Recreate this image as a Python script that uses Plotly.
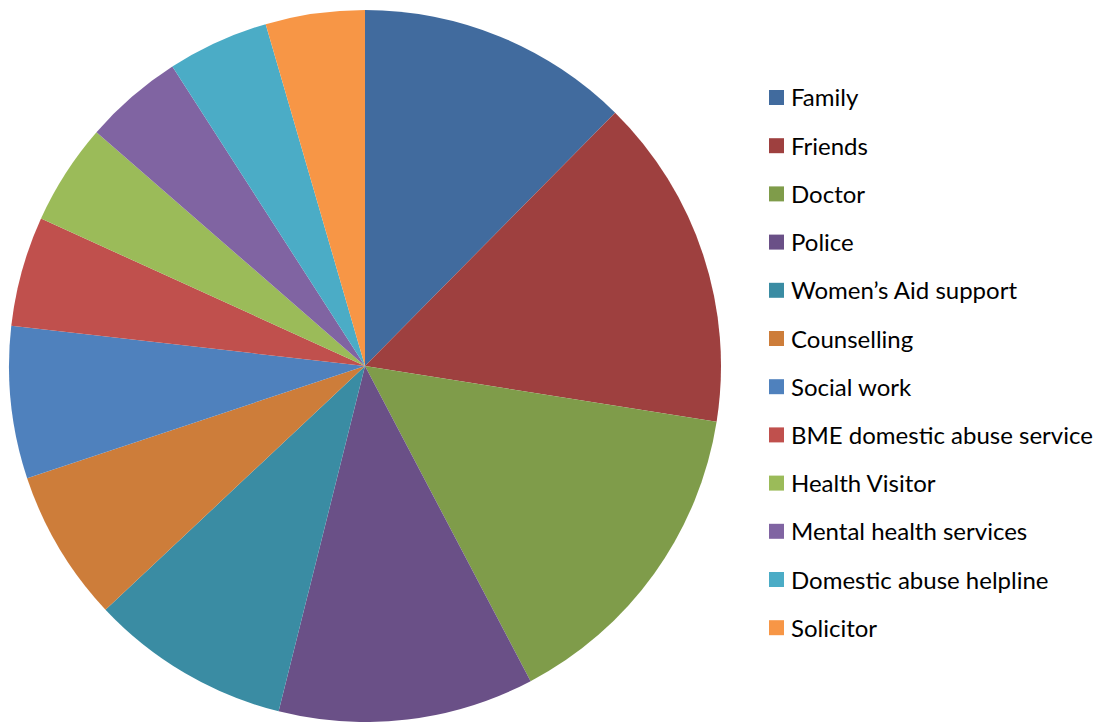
import plotly.graph_objects as go

labels = ["Family", "Friends", "Doctor", "Police", "Women\u2019s Aid support", "Counselling",
          "Social work", "BME domestic abuse service", "Health Visitor",
          "Mental health services", "Domestic abuse helpline", "Solicitor"]
values = [12.4, 15.1, 14.8, 11.6, 9.1, 6.9, 6.9, 5.0, 4.6, 4.5, 4.6, 4.5]
colors = ["#416B9E", "#9E403F", "#7F9C4A", "#6A5087", "#3A8CA3", "#CD7D3A",
          "#4F81BD", "#C0504D", "#9BBB59", "#8064A2", "#4BACC6", "#F79646"]

W, H = 1099, 722
cx, cy, r = 365, 366, 356

fig = go.Figure(go.Pie(
    labels=labels, values=values, sort=False, direction="clockwise", rotation=0,
    marker=dict(colors=colors, line=dict(width=0)),
    textinfo="none", hoverinfo="label+percent", showlegend=False,
    domain=dict(x=[(cx - r) / W, (cx + r) / W], y=[(H - cy - r) / H, (H - cy + r) / H]),
))

# legend drawn manually
leg_x0 = 769
leg_y0 = 97.5
leg_dy = 48.2
sq = 15
shapes = []
annotations = []
for i, (lab, col) in enumerate(zip(labels, colors)):
    yc = leg_y0 + i * leg_dy
    shapes.append(dict(type="rect", xref="paper", yref="paper",
                       x0=leg_x0 / W, x1=(leg_x0 + sq) / W,
                       y0=1 - (yc + sq / 2) / H, y1=1 - (yc - sq / 2) / H,
                       fillcolor=col, line=dict(width=0)))
    annotations.append(dict(text=lab, xref="paper", yref="paper",
                            x=(leg_x0 + sq + 5) / W, y=1 - (yc - 0.5) / H,
                            xanchor="left", yanchor="middle", showarrow=False,
                            font=dict(family="Lato", size=24, color="#000000")))

fig.update_layout(width=W, height=H, margin=dict(l=0, r=0, t=0, b=0),
                  paper_bgcolor="white", plot_bgcolor="white",
                  shapes=shapes, annotations=annotations)
fig.write_html("out.html")
